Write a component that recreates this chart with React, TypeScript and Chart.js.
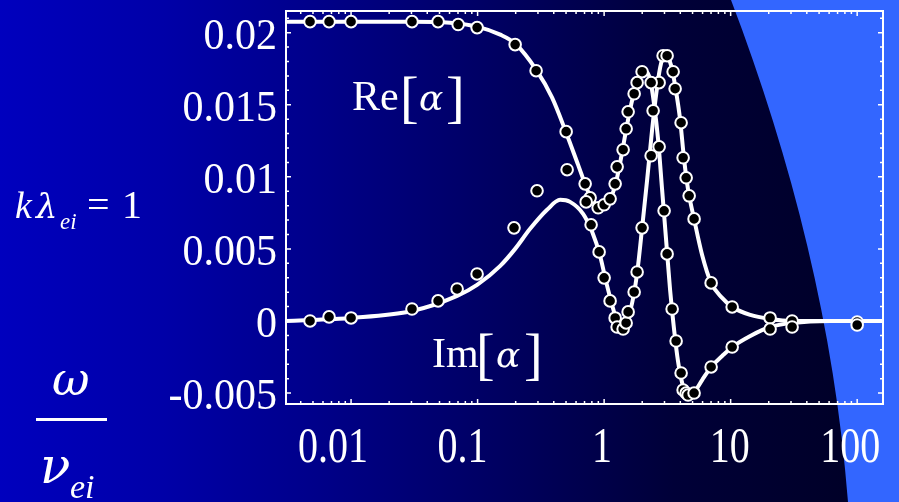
import { useEffect, useRef } from 'react';
import { Chart, registerables } from 'chart.js';

Chart.register(...registerables);

// Axis ranges: omega/nu_ei (log) and alpha
const X_MIN = 0.00306;
const X_MAX = 160;
const Y_MIN = -0.00576;
const Y_MAX = 0.0215;

// Smooth theory curve for Re[alpha]
const reCurveX = [0.00306, 0.01, 0.0303, 0.0606, 0.0991, 0.151, 0.198, 0.29, 0.388, 0.501, 0.623, 0.748, 0.865, 0.964, 1.076, 1.222, 1.338, 1.493, 1.635, 1.791, 1.996, 2.148, 2.31, 2.485, 2.672, 2.873, 3.089, 3.322, 3.575, 3.845, 4.14, 4.45, 4.79, 5.24, 5.95, 7.01, 8.57, 10.28, 14.3, 20.5, 30.6, 61.2, 160];
const reCurveY = [0.02076, 0.02076, 0.02076, 0.02069, 0.02042, 0.01986, 0.01924, 0.01743, 0.01549, 0.01306, 0.01083, 0.00896, 0.00806, 0.00785, 0.00819, 0.00938, 0.01097, 0.01326, 0.015, 0.01639, 0.01722, 0.01729, 0.01674, 0.015, 0.01257, 0.0091, 0.00563, 0.00215, -0.00063, -0.00285, -0.00431, -0.00507, -0.00521, -0.00486, -0.0041, -0.00319, -0.00243, -0.00181, -0.00104, -0.00042, -0.00014, 0, 0];

// Smooth theory curve for Im[alpha]
const imCurveX = [0.00306, 0.00474, 0.01, 0.0303, 0.0689, 0.0991, 0.151, 0.198, 0.26, 0.354, 0.449, 0.538, 0.682, 0.804, 0.93, 1.037, 1.157, 1.267, 1.362, 1.466, 1.577, 1.727, 1.857, 1.996, 2.188, 2.395, 2.576, 2.771, 2.979, 3.204, 3.448, 3.707, 3.987, 4.29, 4.61, 5.14, 5.95, 7.01, 8.57, 10.28, 14.3, 20.5, 30.6, 160];
const imCurveY = [0, 0.00007, 0.00021, 0.00069, 0.00174, 0.0025, 0.00382, 0.005, 0.00639, 0.00771, 0.0084, 0.00826, 0.00743, 0.00618, 0.00451, 0.00271, 0.00111, -0.00007, -0.00056, -0.00042, 0.00042, 0.00194, 0.00389, 0.00646, 0.00979, 0.01326, 0.01569, 0.01757, 0.0184, 0.01826, 0.01743, 0.0159, 0.01396, 0.01118, 0.0091, 0.00708, 0.00458, 0.00264, 0.0016, 0.00097, 0.00042, 0.00014, 0, 0];

// Simulation samples, Re[alpha]
const reSampleX = [0.00474, 0.0067, 0.01, 0.0303, 0.0487, 0.0702, 0.0991, 0.198, 0.29, 0.501, 0.708, 0.775, 0.721, 0.897, 1.0, 1.115, 1.222, 1.267, 1.413, 1.493, 1.548, 1.727, 1.823, 1.996, 2.353, 2.439, 2.721, 2.979, 3.146, 3.448, 3.707, 4.06, 4.21, 4.45, 4.61, 5.14, 7.01, 10.28, 20.5, 30.6, 100];
const reSampleY = [0.02076, 0.02076, 0.02076, 0.02076, 0.02076, 0.02056, 0.02035, 0.01917, 0.01736, 0.01313, 0.00951, 0.00854, 0.00826, 0.00785, 0.00806, 0.00847, 0.00951, 0.01069, 0.01188, 0.01333, 0.01451, 0.01576, 0.01653, 0.01729, 0.01653, 0.01458, 0.01208, 0.00764, 0.00465, 0.00083, -0.00139, -0.00361, -0.00479, -0.005, -0.00514, -0.005, -0.00319, -0.00181, -0.00056, -0.00042, -0.00028];

// Simulation samples, Im[alpha]
const imSampleX = [0.00474, 0.0067, 0.01, 0.0303, 0.0487, 0.0689, 0.0991, 0.194, 0.295, 0.51, 0.789, 0.913, 1.0, 1.115, 1.222, 1.267, 1.413, 1.493, 1.548, 1.727, 1.823, 1.996, 2.353, 2.721, 2.926, 3.146, 3.511, 3.64, 4.06, 4.21, 4.45, 4.7, 5.14, 7.01, 10.28, 20.5, 30.6, 100];
const imSampleY = [0, 0.00028, 0.00021, 0.00083, 0.00139, 0.00222, 0.00326, 0.00646, 0.00903, 0.01049, 0.00667, 0.00479, 0.00299, 0.00139, 0.00021, -0.00042, -0.00056, -0.00014, 0.00063, 0.00201, 0.0034, 0.00646, 0.01146, 0.01653, 0.0184, 0.0184, 0.01729, 0.01611, 0.01375, 0.01132, 0.00993, 0.00868, 0.00708, 0.00264, 0.00097, 0.00021, 0, -0.00007];

// Axis labels
const xTickValues = [0.01, 0.1, 1, 10, 100];
const xTickLabels = ['0.01', '0.1', '1', '10', '100'];
const xLabelNudge = [-18, -15, -2, -1, -7];
const yTickValues = [0.02, 0.015, 0.01, 0.005, 0, -0.005];
const yTickLabels = ['0.02', '0.015', '0.01', '0.005', '0', '-0.005'];

const SERIF = '"Liberation Serif", "Times New Roman", serif';
const GREEK = '"DejaVu Serif", "Liberation Serif", serif';

const pairs = (xs: number[], ys: number[]) => xs.map((x, i) => ({ x, y: ys[i] }));

const backgroundPlugin = {
  id: 'slideBackground',
  beforeDraw(chart: any) {
    const { ctx, width, height } = chart;
    ctx.save();
    const g = ctx.createLinearGradient(0, 0, width, 0);
    g.addColorStop(0, 'rgb(0,0,190)');
    g.addColorStop(0.18, 'rgb(0,0,168)');
    g.addColorStop(0.35, 'rgb(0,0,138)');
    g.addColorStop(0.55, 'rgb(0,0,98)');
    g.addColorStop(0.75, 'rgb(0,0,56)');
    g.addColorStop(1, 'rgb(0,0,35)');
    ctx.fillStyle = g;
    ctx.fillRect(0, 0, width, height);
    ctx.fillStyle = 'rgb(51,102,255)';
    ctx.beginPath();
    ctx.moveTo(731, 0);
    ctx.bezierCurveTo(792, 160, 835, 330, 848, height);
    ctx.lineTo(width, height);
    ctx.lineTo(width, 0);
    ctx.closePath();
    ctx.fill();
    ctx.restore();
  },
};

const framePlugin = {
  id: 'frameTicks',
  beforeDatasetsDraw(chart: any) {
    const { ctx, chartArea } = chart;
    const xs = chart.scales.x;
    const ys = chart.scales.y;
    const { left, right, top, bottom } = chartArea;
    ctx.save();
    ctx.strokeStyle = '#ffffff';
    ctx.lineWidth = 2;
    ctx.strokeRect(left, top, right - left, bottom - top);
    ctx.lineWidth = 1.5;
    ctx.beginPath();
    for (let d = -3; d <= 2; d++) {
      for (let m = 1; m <= 9; m++) {
        const v = m * Math.pow(10, d);
        if (v <= X_MIN || v >= X_MAX) continue;
        const px = xs.getPixelForValue(v);
        const len = m === 1 ? 5 : 3;
        ctx.moveTo(px, bottom);
        ctx.lineTo(px, bottom - len);
        ctx.moveTo(px, top);
        ctx.lineTo(px, top + len);
      }
    }
    for (let k = -5; k <= 21; k++) {
      const py = ys.getPixelForValue(k / 1000);
      const len = k % 5 === 0 ? 5 : 3;
      ctx.moveTo(left, py);
      ctx.lineTo(left + len, py);
      ctx.moveTo(right, py);
      ctx.lineTo(right - len, py);
    }
    ctx.stroke();
    ctx.restore();
  },
};

const textPlugin = {
  id: 'textLabels',
  afterDraw(chart: any) {
    const { ctx, chartArea } = chart;
    const xs = chart.scales.x;
    const ys = chart.scales.y;
    ctx.save();
    ctx.fillStyle = '#ffffff';
    ctx.textBaseline = 'alphabetic';

    // y tick labels
    ctx.font = `42px ${SERIF}`;
    ctx.textAlign = 'right';
    yTickValues.forEach((v, i) => {
      ctx.save();
      ctx.translate(chartArea.left - 9, ys.getPixelForValue(v) + 16);
      ctx.scale(1, 1.06);
      ctx.fillText(yTickLabels[i], 0, 0);
      ctx.restore();
    });

    // x tick labels
    ctx.font = `40px ${SERIF}`;
    ctx.textAlign = 'center';
    xTickValues.forEach((v, i) => {
      ctx.save();
      ctx.translate(xs.getPixelForValue(v) + xLabelNudge[i], chartArea.bottom + 58);
      ctx.scale(1, 1.25);
      ctx.fillText(xTickLabels[i], 0, 0);
      ctx.restore();
    });

    ctx.textAlign = 'left';
    // Re[alpha]
    ctx.font = `42px ${SERIF}`;
    ctx.fillText('Re', 352, 110);
    ctx.font = `56px ${SERIF}`;
    ctx.fillText('[', 400, 116);
    ctx.font = `italic 36px ${GREEK}`;
    ctx.fillText('α', 419, 110);
    ctx.font = `56px ${SERIF}`;
    ctx.fillText(']', 446, 116);

    // Im[alpha]
    ctx.font = `42px ${SERIF}`;
    ctx.fillText('Im', 432, 367);
    ctx.font = `56px ${SERIF}`;
    ctx.fillText('[', 476, 373);
    ctx.font = `italic 36px ${GREEK}`;
    ctx.fillText('α', 496, 367);
    ctx.font = `56px ${SERIF}`;
    ctx.fillText(']', 524, 373);

    // k lambda_ei = 1
    ctx.font = `italic 38px ${SERIF}`;
    ctx.fillText('k', 15, 218);
    ctx.font = `italic 34px ${GREEK}`;
    ctx.fillText('λ', 36, 218);
    ctx.font = `italic 23px ${SERIF}`;
    ctx.fillText('ei', 60, 229);
    ctx.font = `40px ${SERIF}`;
    ctx.fillText('=', 87, 218);
    ctx.fillText('1', 122, 218);

    // omega / nu_ei
    ctx.font = `italic 46px ${GREEK}`;
    ctx.fillText('ω', 52, 395);
    ctx.fillRect(36, 418, 71, 3);
    ctx.font = `italic 50px ${GREEK}`;
    ctx.fillText('ν', 40, 483);
    ctx.font = `italic 34px ${SERIF}`;
    ctx.fillText('ei', 70, 498);

    ctx.restore();
  },
};

export default function App() {
  const canvasRef = useRef<HTMLCanvasElement | null>(null);

  useEffect(() => {
    document.body.style.margin = '0';
    const canvas = canvasRef.current;
    if (!canvas) return;

    const curveStyle = {
      showLine: true,
      borderColor: '#ffffff',
      borderWidth: 4,
      pointRadius: 0,
      cubicInterpolationMode: 'monotone' as const,
      order: 1,
    };
    const sampleStyle = {
      showLine: false,
      pointRadius: 5.8,
      pointBackgroundColor: '#000000',
      pointBorderColor: '#ffffff',
      pointBorderWidth: 2,
      order: 0,
    };

    const chart = new Chart(canvas, {
      type: 'scatter',
      data: {
        datasets: [
          { label: 'Re samples', data: pairs(reSampleX, reSampleY), ...sampleStyle },
          { label: 'Im samples', data: pairs(imSampleX, imSampleY), ...sampleStyle },
          { label: 'Re[α]', data: pairs(reCurveX, reCurveY), ...curveStyle },
          { label: 'Im[α]', data: pairs(imCurveX, imCurveY), ...curveStyle },
        ],
      },
      options: {
        responsive: false,
        animation: false,
        events: [],
        layout: { padding: { left: 286, right: 16, top: 11, bottom: 98 } },
        plugins: { legend: { display: false }, tooltip: { enabled: false } },
        scales: {
          x: { type: 'logarithmic', min: X_MIN, max: X_MAX, display: false },
          y: { type: 'linear', min: Y_MIN, max: Y_MAX, display: false },
        },
      },
      plugins: [backgroundPlugin, framePlugin, textPlugin],
    });

    return () => chart.destroy();
  }, []);

  return (
    <div style={{ width: 899, height: 502, overflow: 'hidden' }}>
      <canvas ref={canvasRef} width={899} height={502} style={{ display: 'block' }} />
    </div>
  );
}
